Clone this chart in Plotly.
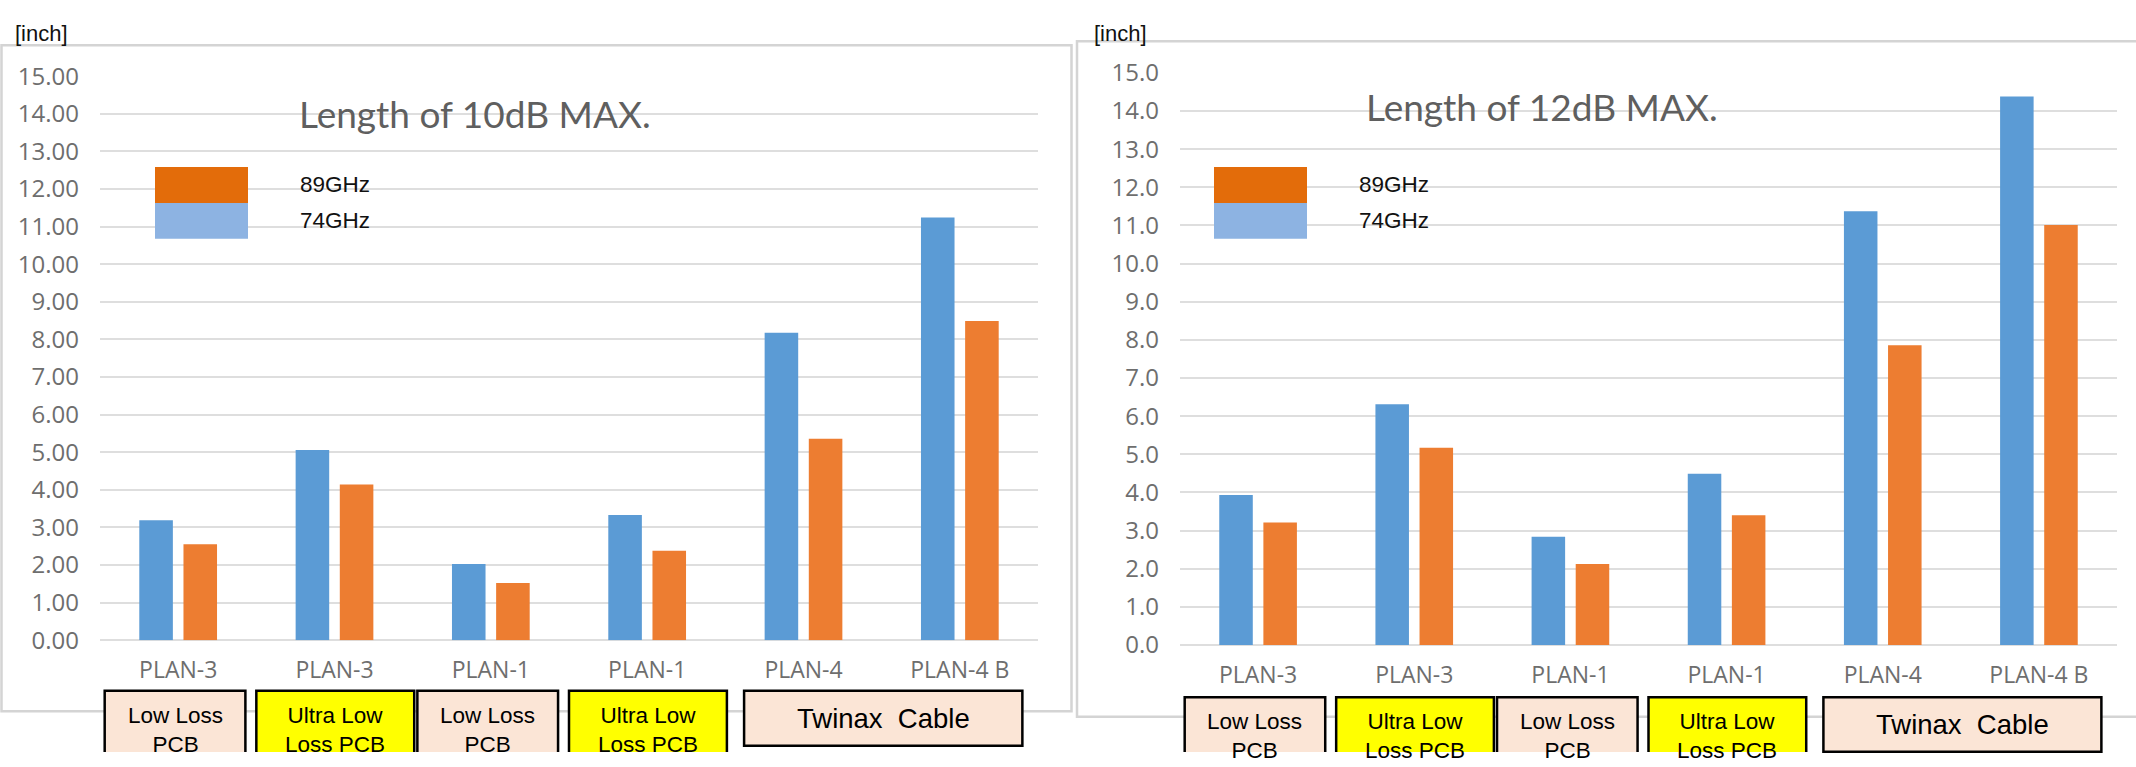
import plotly.graph_objects as go

# ---------------- data ----------------
categories = ["PLAN-3", "PLAN-3", "PLAN-1", "PLAN-1", "PLAN-4", "PLAN-4 B"]
series_names = ["74GHz", "89GHz"]

len10db_74ghz = [3.19, 5.06, 2.03, 3.33, 8.18, 11.24]
len10db_89ghz = [2.55, 4.14, 1.52, 2.38, 5.36, 8.49]

len12db_74ghz = [3.93, 6.31, 2.84, 4.49, 11.37, 14.38]
len12db_89ghz = [3.21, 5.17, 2.12, 3.40, 7.86, 11.01]

chart_titles = ["Length of 10dB MAX.", "Length of 12dB MAX."]
unit_label = "[inch]"
y_ticks = list(range(0, 16))

group_labels = ["Low Loss<br>PCB", "Ultra Low<br>Loss PCB", "Low Loss<br>PCB",
                "Ultra Low<br>Loss PCB", "Twinax\u00a0 Cable"]
group_spans = [(0, 0), (1, 1), (2, 2), (3, 3), (4, 5)]
group_kinds = ["low", "ultra", "low", "ultra", "cable"]

# ---------------- styling / layout ----------------
W, H = 2136, 767
BLUE, ORANGE = "#5B9BD5", "#ED7D31"
LEG_ORANGE, LEG_BLUE = "#E36C0A", "#8DB3E2"
GRID = "#dedede"
YTICK_FONT = dict(family="Open Sans, sans-serif", size=24, color="#6e6e6e")
XTICK_FONT = dict(family="Open Sans, sans-serif", size=23, color="#6e6e6e")
ARIAL = "Liberation Sans, Arial, sans-serif"
BOX_STYLE = {
    "low": dict(fill="#FBE5D6", pad=(0.47, 0.43)),
    "ultra": dict(fill="#FFFF00", pad=(0.50, 0.51)),
    "cable": dict(fill="#FBE5D6", pad=(0.38, 0.40)),
}

# the photographed page shows the canvas slightly squeezed vertically about its
# centre; vertical placements are given in picture pixels and mapped back here
SQUEEZE, CENTRE = 0.959, H / 2


def PX(x):
    return x / W


def PY(y):
    fig_y = CENTRE + (y - CENTRE) / SQUEEZE
    fig_y = min(max(fig_y, 0), H)
    return 1 - fig_y / H


panels = [
    dict(xa="x", ya="y", vals=(len10db_74ghz, len10db_89ghz), title=chart_titles[0],
         plot_x=(100, 1038), plot_y=(639.3, 74.0), frame=(1.5, 43, 1071.5, 710.5),
         title_xy=(297, 111), legend_xy=(155, 165), legend_text_x=298, unit_x=13,
         box_top=690, box_text_y=729.5, cable_bottom=745, fmt=".2f"),
    dict(xa="x2", ya="y2", vals=(len12db_74ghz, len12db_89ghz), title=chart_titles[1],
         plot_x=(1180, 2117), plot_y=(644.0, 70.7), frame=(1077, 39, None, 716),
         title_xy=(1364, 104), legend_xy=(1214, 165), legend_text_x=1357, unit_x=1092,
         box_top=696.5, box_text_y=735, cable_bottom=751.0, fmt=".1f"),
]

fig = go.Figure()
shapes, annotations = [], []
xpos = list(range(len(categories)))

for p in panels:
    fx0, fy0, fx1, fy1 = p["frame"]
    if fx1 is None:  # frame runs off the right edge: no right-hand stroke
        shapes.append(dict(type="path", xref="paper", yref="paper", layer="below",
                           path=(f"M1.0,{PY(fy1)} L{PX(fx0)},{PY(fy1)} "
                                 f"L{PX(fx0)},{PY(fy0)} L1.0,{PY(fy0)}"),
                           line=dict(color="#d4d4d4", width=2.5), fillcolor="white"))
    else:
        shapes.append(dict(type="rect", xref="paper", yref="paper", layer="below",
                           x0=PX(fx0), x1=PX(fx1), y0=PY(fy1), y1=PY(fy0),
                           line=dict(color="#d4d4d4", width=2.5), fillcolor="white"))
    for name, vals, col in zip(series_names, p["vals"], [BLUE, ORANGE]):
        fig.add_trace(go.Bar(x=xpos, y=vals, name=name, marker_color=col,
                             marker_line_width=0, xaxis=p["xa"], yaxis=p["ya"],
                             showlegend=False))
    annotations.append(dict(text=p["title"], xref="paper", yref="paper",
                            x=PX(p["title_xy"][0]), y=PY(p["title_xy"][1]),
                            xanchor="left", yanchor="middle", showarrow=False,
                            font=dict(family="Lato, sans-serif", size=37, color="#5f5f5f")))
    annotations.append(dict(text=unit_label, xref="paper", yref="paper",
                            x=PX(p["unit_x"]), y=1.0, yshift=-1,
                            xanchor="left", yanchor="top", showarrow=False,
                            font=dict(family=ARIAL, size=22, color="#111")))
    lx, ly = p["legend_xy"]
    for i, (name, col) in enumerate([(series_names[1], LEG_ORANGE), (series_names[0], LEG_BLUE)]):
        shapes.append(dict(type="rect", xref="paper", yref="paper",
                           x0=PX(lx), x1=PX(lx + 93), y0=PY(ly + 36 * (i + 1)), y1=PY(ly + 36 * i),
                           line=dict(width=0), fillcolor=col))
        annotations.append(dict(text=name, xref="paper", yref="paper",
                                x=PX(p["legend_text_x"]), y=PY(ly + 18 + 36 * i),
                                xanchor="left", yanchor="middle", showarrow=False,
                                font=dict(family=ARIAL, size=22.5, color="#111")))
    for lab, (a, b), kind in zip(group_labels, group_spans, group_kinds):
        st = BOX_STYLE[kind]
        x0, x1 = a - st["pad"][0], b + st["pad"][1]
        top = PY(p["box_top"])
        if kind == "cable":
            shapes.append(dict(type="rect", xref=p["xa"], yref="paper",
                               x0=x0, x1=x1, y0=PY(p["cable_bottom"]), y1=top,
                               line=dict(color="#000", width=2.5), fillcolor=st["fill"]))
        else:  # box runs off the bottom edge: no bottom stroke
            shapes.append(dict(type="path", xref=p["xa"], yref="paper",
                               path=f"M{x0},0 L{x0},{top} L{x1},{top} L{x1},0",
                               line=dict(color="#000", width=2.5), fillcolor=st["fill"]))
        ty = (p["box_top"] + p["cable_bottom"]) / 2 if kind == "cable" else p["box_text_y"]
        annotations.append(dict(text=lab, xref=p["xa"], yref="paper",
                                x=(x0 + x1) / 2, y=PY(ty), xanchor="center", yanchor="middle",
                                showarrow=False,
                                font=dict(family=ARIAL, size=27.5 if kind == "cable" else 22.5,
                                          color="#000")))

lay = dict(width=W, height=H, margin=dict(l=0, r=0, t=0, b=0),
           paper_bgcolor="white", plot_bgcolor="rgba(0,0,0,0)",
           bargap=0.435, bargroupgap=0.24, barmode="group",
           shapes=shapes, annotations=annotations)

for idx, p in enumerate(panels):
    sfx = "" if idx == 0 else str(idx + 1)
    lay["xaxis" + sfx] = dict(domain=[PX(p["plot_x"][0]), PX(p["plot_x"][1])],
                              anchor="y" + sfx, range=[-0.5, len(categories) - 0.5],
                              tickvals=xpos, ticktext=categories, tickfont=XTICK_FONT,
                              showgrid=False, zeroline=False, showline=False, ticks="",
                              ticklabelstandoff=14)
    lay["yaxis" + sfx] = dict(domain=[PY(p["plot_y"][0]), PY(p["plot_y"][1])],
                              anchor="x" + sfx, range=[0, 15], tickvals=y_ticks,
                              tickformat=p["fmt"], tickfont=YTICK_FONT,
                              showgrid=True, gridcolor=GRID, gridwidth=2,
                              zeroline=True, zerolinecolor=GRID, zerolinewidth=2,
                              showline=False, ticks="", ticklabelstandoff=20)

fig.update_layout(**lay)
fig.write_html("out.html", config={"displayModeBar": False},
               post_script="document.body.style.margin='0';document.body.style.overflow='hidden';")
